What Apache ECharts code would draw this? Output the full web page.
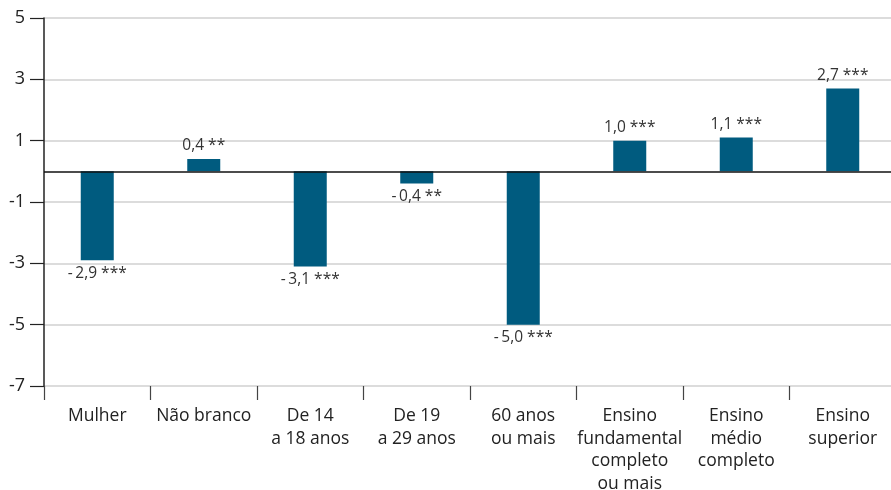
<!DOCTYPE html>
<html>
<head>
<meta charset="utf-8">
<script src="https://cdn.jsdelivr.net/npm/echarts@6/dist/echarts.min.js"></script>
<style>
  html, body { margin: 0; padding: 0; background: #fff; }
  #chart { width: 891px; height: 490px; }
</style>
</head>
<body>
<div id="chart"></div>
<script>
// Categories (line breaks as printed under each bar)
const categories = [
  'Mulher',
  'Não branco',
  'De 14\na 18 anos',
  'De 19\na 29 anos',
  '60 anos\nou mais',
  'Ensino\nfundamental\ncompleto\nou mais',
  'Ensino\nmédio\ncompleto',
  'Ensino\nsuperior'
];
// Effect estimates (percentage points)
const values = [-2.9, 0.4, -3.1, -0.4, -5.0, 1.0, 1.1, 2.7];
// Significance markers
const significance = ['***', '**', '***', '**', '***', '***', '***', '***'];
// Y axis range
const yMin = -7, yMax = 5, yStep = 2;

const FONT = '"Open Sans", "Noto Sans", sans-serif';
const BAR = '#005b7f';

const data = values.map(v => ({
  value: v,
  label: { position: v >= 0 ? 'top' : 'bottom' }
}));

// "-2,9" style with a thin gap after the minus sign
function fmtValue(v) {
  const s = Math.abs(v).toFixed(1).replace('.', ',');
  return v < 0 ? '-\u2009' + s : s;
}

const chart = echarts.init(document.getElementById('chart'), null, { renderer: 'canvas' });
chart.setOption({
  animation: false,
  grid: {
    left: 44, right: -5, top: 18, bottom: 104,
    containLabel: false,
    outerBoundsMode: 'none'
  },
  xAxis: {
    type: 'category',
    data: categories,
    position: 'bottom',
    axisLine: { show: false, onZero: false },
    axisTick: {
      show: true,
      length: 14,
      lineStyle: { color: '#444', width: 1.2 }
    },
    axisLabel: {
      color: '#222',
      fontFamily: FONT,
      fontSize: 17.5,
      lineHeight: 22.5,
      margin: 19,
      interval: 0
    },
    splitLine: { show: false }
  },
  yAxis: {
    type: 'value',
    min: yMin,
    max: yMax,
    interval: yStep,
    axisLine: { show: true, lineStyle: { color: '#222', width: 1.5 } },
    axisTick: { show: true, length: 14, lineStyle: { color: '#222', width: 1.2 } },
    axisLabel: {
      color: '#222',
      fontFamily: FONT,
      fontSize: 18,
      margin: 19,
      align: 'right',
      formatter: v => String(v)
    },
    splitLine: { show: true, lineStyle: { color: '#d0d0d0', width: 1.5 } }
  },
  series: [{
    type: 'bar',
    data: data,
    barWidth: 33,
    itemStyle: { color: BAR },
    label: {
      show: true,
      distance: 5,
      color: '#333',
      fontFamily: FONT,
      fontSize: 15.5,
      formatter: p => fmtValue(values[p.dataIndex]) + ' ' + significance[p.dataIndex]
    },
    markLine: {
      silent: true,
      symbol: 'none',
      label: { show: false },
      lineStyle: { color: '#111', width: 1.5, type: 'solid' },
      data: [{ yAxis: 0 }]
    }
  }]
});
</script>
</body>
</html>
